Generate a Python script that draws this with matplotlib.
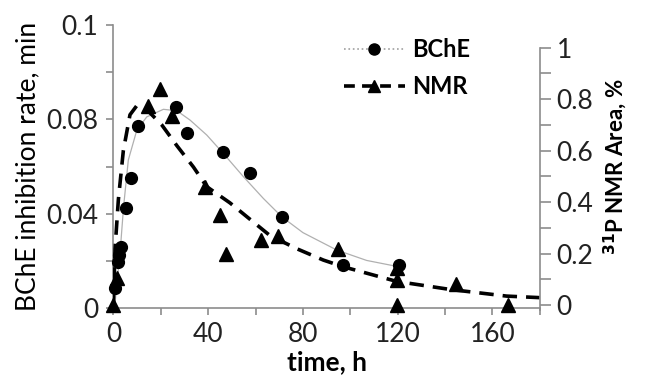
import matplotlib
matplotlib.use('Agg')
import matplotlib.pyplot as plt
from matplotlib.lines import Line2D
from matplotlib.ticker import MultipleLocator, FixedLocator

plt.rcParams['font.family'] = ['Lato', 'DejaVu Sans']

# BChE inhibition rate (left axis) measured points
bche_t = [0.7, 2.0, 2.5, 3.0, 5.4, 7.3, 10.3, 26.5, 31.2, 46.4, 57.7, 71.0, 96.8, 120.5]
bche_v = [0.0085, 0.0195, 0.0225, 0.026, 0.0423, 0.0553, 0.0772, 0.0854, 0.0743,
          0.0663, 0.0574, 0.0385, 0.0182, 0.0182]

# BChE fitted curve
bche_fit_t = [0, 0.7, 1.5, 2.8, 4.3, 6.3, 9.9, 14.1, 21.1, 26.8, 32.4, 39.4, 46.4,
              54.9, 63.3, 71.1, 80.0, 94.3, 106.9, 120.5]
bche_fit_v = [0, 0.002, 0.011, 0.0233, 0.043, 0.0628, 0.0755, 0.0811, 0.0843, 0.0837,
              0.0797, 0.0734, 0.0656, 0.0557, 0.0465, 0.0387, 0.032, 0.0246, 0.0202, 0.0175]

# 31P NMR area (right axis) measured points
nmr_t = [0, 1.4, 14.8, 19.7, 24.6, 38.7, 45.0, 47.6, 62.3, 69.4, 95.0, 119.6, 119.6,
         119.6, 144.6, 166.7]
nmr_v = [0, 0.106, 0.774, 0.84, 0.733, 0.457, 0.349, 0.2, 0.251, 0.27, 0.219, 0.143,
         0.099, 0, 0.083, 0]

# NMR fitted curve
nmr_fit_t = [0, 0.7, 2.1, 4.2, 7.0, 10.0, 14.0, 20.4, 26.8, 33.8, 39.4, 49.2, 57.7,
             66.1, 77.4, 88.6, 97.0, 119.6, 142.0, 166.0, 180.0]
nmr_fit_v = [0, 0.219, 0.41, 0.6, 0.739, 0.776, 0.76, 0.7, 0.619, 0.536, 0.46, 0.397,
             0.333, 0.27, 0.219, 0.175, 0.149, 0.092, 0.061, 0.035, 0.029]

x_ticks = [0, 40, 80, 120, 160]
left_ticks = [0, 0.04, 0.08, 0.12]
left_labels = ['0', '0.04', '0.08', '0.1']
right_ticks = [0, 0.2, 0.4, 0.6, 0.8, 1.0]
right_labels = ['0', '0.2', '0.4', '0.6', '0.8', '1']

fig = plt.figure(figsize=(6.48, 3.87), dpi=100)
ax = fig.add_axes([0.175, 0.204, 0.658, 0.731])
ax2 = ax.twinx()

grey = '#8c8c8c'

# fits
ax.plot(bche_fit_t, bche_fit_v, color='#b0b0b0', lw=0.9, zorder=2)
ax2.plot(nmr_fit_t, nmr_fit_v, color='black', lw=2.6, dashes=(4, 2.5), zorder=2)

# data points
ax.plot(bche_t, bche_v, 'o', color='black', ms=8.5, clip_on=False, zorder=3)
ax2.plot(nmr_t, nmr_v, '^', color='black', ms=10, clip_on=False, zorder=3)

ax.set_xlim(0, 180)
ax.set_ylim(0, 0.12)
ax2.set_ylim(-0.0114, 1.087)

for a in (ax, ax2):
    a.spines['top'].set_visible(False)
    for s in a.spines.values():
        s.set_color(grey)
        s.set_linewidth(1.2)
ax.spines['right'].set_visible(False)
ax2.spines['left'].set_visible(False)
ax2.spines['bottom'].set_visible(False)
ax2.spines['right'].set_bounds(-0.02, 1.0)

ax.xaxis.set_major_locator(FixedLocator(x_ticks))
ax.xaxis.set_minor_locator(MultipleLocator(20))
ax.set_yticks(left_ticks)
ax.set_yticklabels(left_labels)
ax.yaxis.set_minor_locator(MultipleLocator(0.02))
ax2.set_yticks(right_ticks)
ax2.set_yticklabels(right_labels)
ax2.yaxis.set_minor_locator(MultipleLocator(0.1))

ax.tick_params(axis='both', which='both', colors=grey, labelcolor='#222222',
               labelsize=19, length=5, width=1.2)
ax.tick_params(axis='x', pad=5)
ax.tick_params(axis='y', pad=6)
ax2.tick_params(axis='y', which='both', colors=grey, labelcolor='#222222',
                labelsize=19, length=8, width=1.2, pad=4)

ax.set_xlabel('time, h', fontsize=19, fontweight='bold', labelpad=2)
ax.set_ylabel('BChE inhibition rate, min', fontsize=19, labelpad=4)
ax2.set_ylabel('$\\mathbf{^{31}}$P NMR Area, %', fontsize=16, fontweight='bold', labelpad=6)

handles = [
    Line2D([], [], color='#a0a0a0', lw=1.2, ls=':', marker='o', ms=8, mfc='black', mec='black'),
    Line2D([], [], color='black', lw=2.6, dashes=(3, 2), marker='^', ms=9, mfc='black', mec='black'),
]
leg = ax2.legend(handles, ['BChE', 'NMR'], loc='upper left', bbox_to_anchor=(0.49, 1.03),
                 frameon=False, handlelength=2.6, labelspacing=0.6, handletextpad=0.3,
                 prop={'size': 17, 'weight': 'bold'})

fig.savefig('out.png', dpi=100)
